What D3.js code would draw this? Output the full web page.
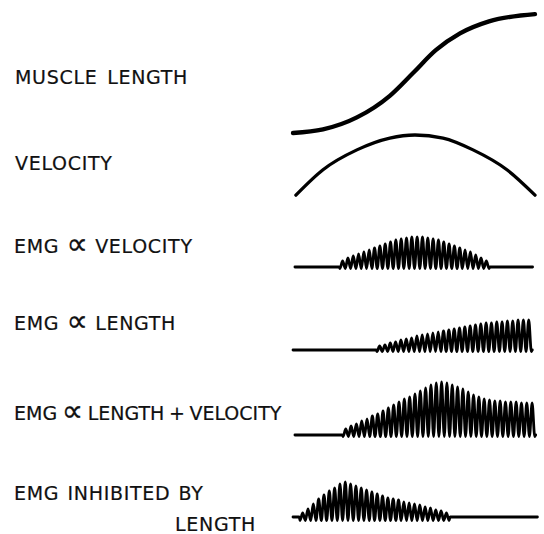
<!DOCTYPE html>
<html><head><meta charset="utf-8">
<script src="https://cdn.jsdelivr.net/npm/d3@7/dist/d3.min.js"></script>
<style>body{margin:0;background:#fff}svg{display:block}</style>
</head><body>
<svg id="c" width="544" height="534"></svg>
<script>
// ---- data (time in % of movement, 0..100) ----
const labels = ["MUSCLE LENGTH", "VELOCITY", "EMG \u221D VELOCITY", "EMG \u221D LENGTH", "EMG \u221D LENGTH + VELOCITY", "EMG INHIBITED BY", "LENGTH"];

const lengthTime   = [0, 12.4, 26.4, 40, 49.6, 59, 69, 81, 100];
const lengthValues = [0, 3, 13, 31, 50, 69, 83, 93, 99];

const velocityTime   = [1.2, 12.4, 26.4, 40, 50.4, 62, 74.4, 88.4, 100];
const velocityValues = [3, 44, 76, 95, 100, 95, 76, 44, 3];

// EMG bursts: start time, cycle period, peak amplitude per cycle
const emgPeriod = 2.2;
const emgVelStart = 19.4;
const emgVelPeaks = [6,9,11,13,15,17,19,21,23,25,27,28,29,30,30,30,29,28,27,25,23,21,19,17,15,12,9,6];
const emgLenStart = 34.7;
const emgLenPeaks = [4,5,7,8,10,11,12,14,15,16,17,18,19,20,21,22,23,24,25,26,27,27,28,28,29,29,30,30,30];
const emgLenVelStart = 20.7;
const emgLenVelPeaks = [6,9,11,14,16,19,21,24,27,30,33,36,38,41,44,47,50,52,53,52,50,48,46,43,40,38,36,35,34,34,33,33,33,32,32,32];
const emgInhStart = 2.9;
const emgInhPeaks = [4,8,13,18,22,26,29,33,35,33,31,29,27,25,23,21,19,18,17,15,14,13,12,10,9,7,6,4];

// ---- drawing ----
const svg = d3.select("#c");
const x = d3.scaleLinear().domain([0, 100]).range([293, 535]);

// labels
const fontFam = "'DejaVu Sans', sans-serif";
const labelPos = [[15,84],[15,170],[14,253],[14,330],[14,420],[14,500],[175,531]];
const wordSp = [3,3,0.5,0.5,-1.5,1.5,3];
const letterSp = [0.7,0.7,0.7,0.7,0,0.7,0.7];
const lab = svg.selectAll("text.lab").data(labels).join("text")
  .attr("class","lab")
  .attr("x",(d,i)=>labelPos[i][0]).attr("y",(d,i)=>labelPos[i][1])
  .attr("font-family",fontFam).attr("font-size",19).attr("fill","#111")
  .attr("stroke","#111").attr("stroke-width",0.2)
  .attr("letter-spacing",(d,i)=>letterSp[i]).attr("word-spacing",(d,i)=>wordSp[i]);
lab.each(function(d){
  const t = d3.select(this);
  d.split("\u221D").forEach((part, k) => {
    if (k > 0) t.append("tspan").attr("font-size",30).attr("dy",1).text("\u221D")
      .attr("letter-spacing",0).attr("stroke-width",0.3);
    t.append("tspan").attr("dy", k > 0 ? -1 : 0).text(part);
  });
});

// muscle length
const yLen = d3.scaleLinear().domain([0,100]).range([133, 13]);
svg.append("path")
  .datum(lengthTime.map((t,i)=>[t,lengthValues[i]]))
  .attr("d", d3.line().x(d=>x(d[0])).y(d=>yLen(d[1])).curve(d3.curveMonotoneX))
  .attr("fill","none").attr("stroke","#000").attr("stroke-width",4.3).attr("stroke-linecap","round");

// velocity
const yVel = d3.scaleLinear().domain([0,100]).range([197, 135]);
svg.append("path")
  .datum(velocityTime.map((t,i)=>[t,velocityValues[i]]))
  .attr("d", d3.line().x(d=>x(d[0])).y(d=>yVel(d[1])).curve(d3.curveMonotoneX))
  .attr("fill","none").attr("stroke","#000").attr("stroke-width",3.3).attr("stroke-linecap","round");

// EMG traces
function emgPoints(start, peaks, t0, t1, trough) {
  const pts = [[t0, 0]];
  pts.push([start - 0.3, 0]);
  peaks.forEach((p, i) => {
    pts.push([start + i*emgPeriod, -trough]);
    pts.push([start + (i+0.5)*emgPeriod, p]);
  });
  pts.push([start + peaks.length*emgPeriod, -trough]);
  pts.push([start + peaks.length*emgPeriod + 0.4, 0]);
  pts.push([t1, 0]);
  return pts;
}
const emgRows = [
  {base:267, start:emgVelStart, peaks:emgVelPeaks, t0:0.8, t1:99, trough:1.5},
  {base:350, start:emgLenStart, peaks:emgLenPeaks, t0:0, t1:98.8, trough:1.5},
  {base:435, start:emgLenVelStart, peaks:emgLenVelPeaks, t0:0.8, t1:100, trough:1.5},
  {base:517, start:emgInhStart, peaks:emgInhPeaks, t0:0, t1:101, trough:3.5}
];
emgRows.forEach(r => {
  const y = d3.scaleLinear().domain([0, 50]).range([r.base, r.base - 50]);
  svg.append("path")
    .datum(emgPoints(r.start, r.peaks, r.t0, r.t1, r.trough))
    .attr("d", d3.line().x(d=>x(d[0])).y(d=>y(d[1])).curve(d3.curveMonotoneX))
    .attr("fill","none").attr("stroke","#000").attr("stroke-width",2.8)
    .attr("stroke-linejoin","round").attr("stroke-linecap","round");
});
</script>
</body></html>
